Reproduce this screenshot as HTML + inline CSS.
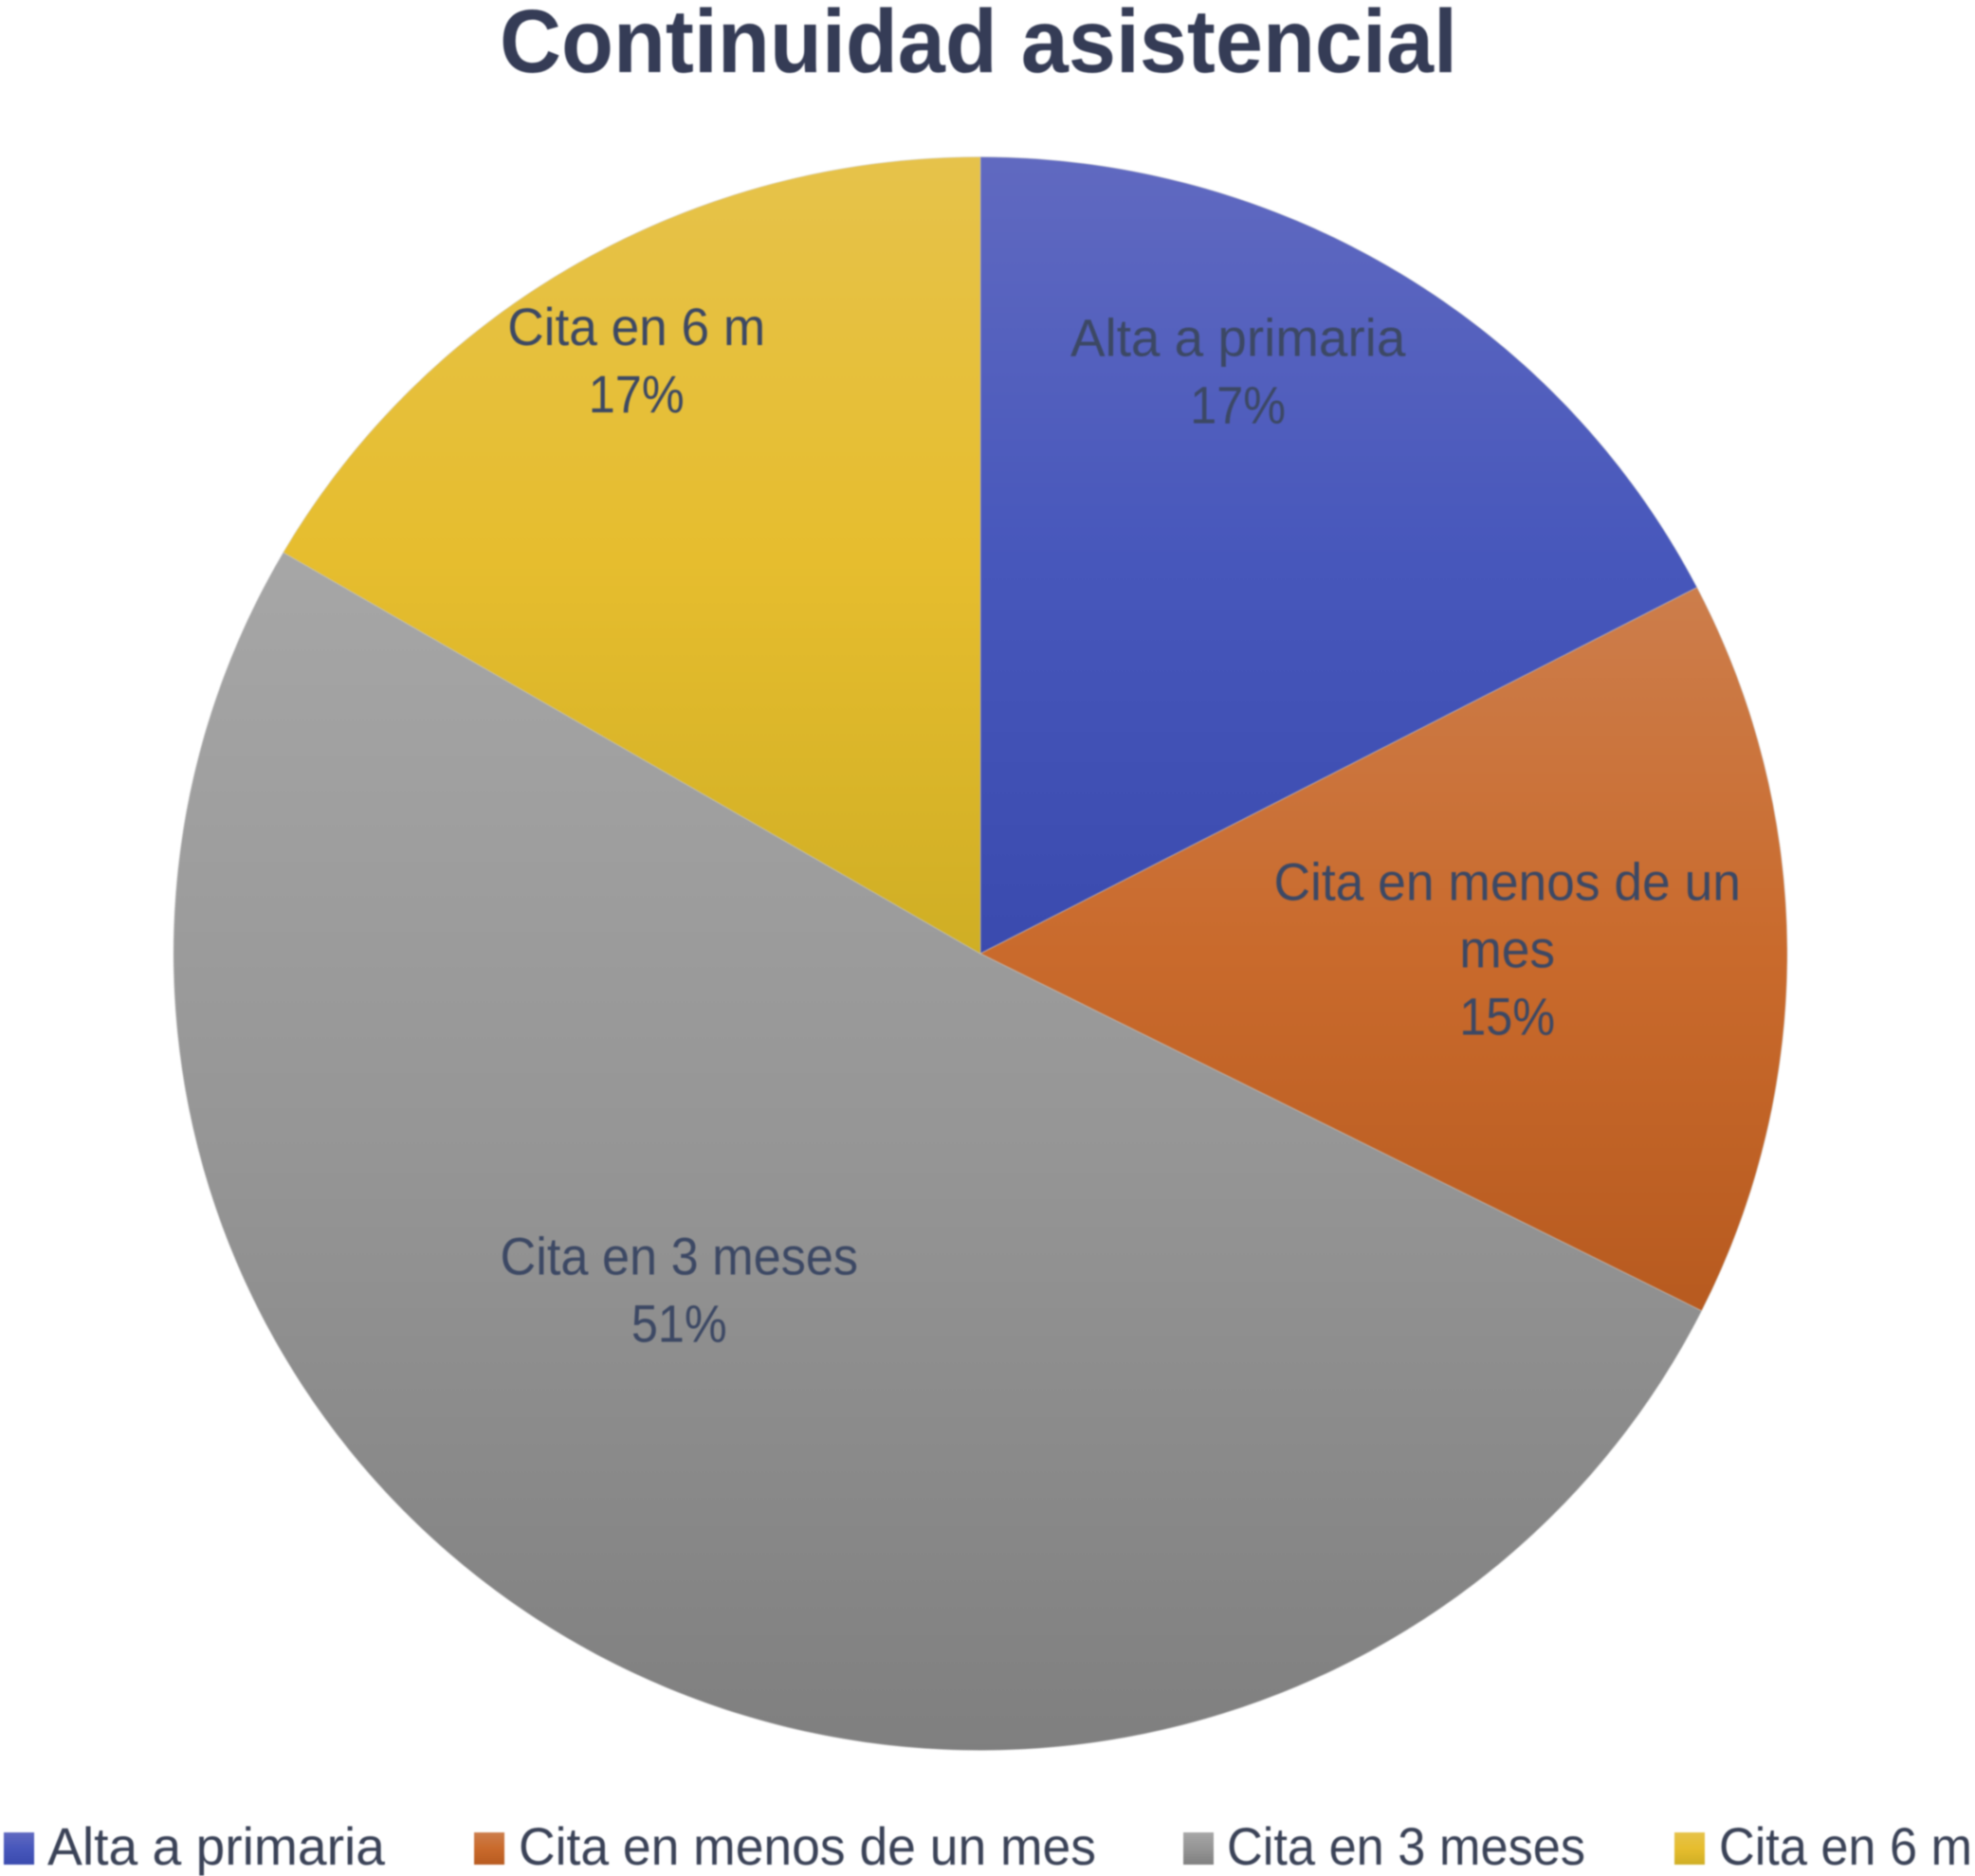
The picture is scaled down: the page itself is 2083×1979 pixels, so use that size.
<!DOCTYPE html>
<html lang="es">
<head>
<meta charset="utf-8">
<title>Continuidad asistencial</title>
<style>
  html, body { margin: 0; padding: 0; background: #ffffff; }
  #chart { display: block; width: 2083px; height: 1979px; font-family: "Liberation Sans", sans-serif; filter: blur(0.7px); }
</style>
</head>
<body>
<svg id="chart" xmlns="http://www.w3.org/2000/svg" width="2083" height="1979" viewBox="0 0 2083 1979">
  <defs>
    <linearGradient id="grad-0" x1="0" y1="0" x2="0" y2="1">
      <stop offset="0" stop-color="#6069c0"/><stop offset="0.5" stop-color="#4757bb"/><stop offset="1" stop-color="#3a4aae"/>
    </linearGradient>
    <linearGradient id="grad-1" x1="0" y1="0" x2="0" y2="1">
      <stop offset="0" stop-color="#cc7d4b"/><stop offset="0.5" stop-color="#c96a2c"/><stop offset="1" stop-color="#b75a1f"/>
    </linearGradient>
    <linearGradient id="grad-2" x1="0" y1="0" x2="0" y2="1">
      <stop offset="0" stop-color="#a6a6a6"/><stop offset="0.5" stop-color="#959595"/><stop offset="1" stop-color="#7f7f7f"/>
    </linearGradient>
    <linearGradient id="grad-3" x1="0" y1="0" x2="0" y2="1">
      <stop offset="0" stop-color="#e6c24a"/><stop offset="0.5" stop-color="#e6bd2e"/><stop offset="1" stop-color="#cfae24"/>
    </linearGradient>
  </defs>
  <text x="1032" y="76" text-anchor="middle" font-size="95" font-weight="700" fill="#353c56" textLength="1010" lengthAdjust="spacingAndGlyphs">Continuidad asistencial</text>
  <g id="slices"></g>
  <g id="labels"></g>
  <g id="legend"></g>
</svg>
<script>
const categories = ["Alta a primaria", "Cita en menos de un mes", "Cita en 3 meses", "Cita en 6 m"];
const values = [17.4, 15.0, 51, 16.6];
const printedValues = ["17%", "15%", "51%", "17%"];
const labelLines = [["Alta a primaria"], ["Cita en menos de un", "mes"], ["Cita en 3 meses"], ["Cita en 6 m"]];

const CX = 1034, CY = 1006, RX = 851, RY = 840.5;
const SVG_NS = "http://www.w3.org/2000/svg";
const LABEL_RADIUS = 0.7, LABEL_SIZE = 56, LINE_GAP = 71, PERCENT_CONDENSE = 0.9;
const labelCondenseLayout = [0.979, 0.953, 0.933, 0.95];
const labelNudgeLayout = [[-38, -128], [-40, -53], [-34, -179], [-66, -132]];
const legendLayout = [[4, 50, 356], [500, 547, 609], [1248, 1294, 378], [1766, 1813, 267]];
const swatchColors = ["url(#grad-0)", "url(#grad-1)", "url(#grad-2)", "url(#grad-3)"];

const total = values.reduce(function (a, b) { return a + b; }, 0);
function angleOf(v) { return v / total * Math.PI * 2; }
function px(a, k) { return CX + Math.sin(a) * RX * k; }
function py(a, k) { return CY - Math.cos(a) * RY * k; }

const slicesG = document.getElementById("slices");
const labelsG = document.getElementById("labels");
const legendG = document.getElementById("legend");

let cursor = 0;
values.forEach(function (v, i) {
  const a0 = angleOf(cursor);
  const a1 = angleOf(cursor + v);
  cursor += v;
  const large = (a1 - a0) > Math.PI ? 1 : 0;
  const path = document.createElementNS(SVG_NS, "path");
  path.setAttribute("d", "M" + CX + " " + CY + " L" + px(a0, 1) + " " + py(a0, 1) +
    " A" + RX + " " + RY + " 0 " + large + " 1 " + px(a1, 1) + " " + py(a1, 1) + " Z");
  path.setAttribute("fill", swatchColors[i]);
  path.setAttribute("stroke", "rgba(205,205,205,0.45)");
  path.setAttribute("stroke-width", "1");
  
  
  slicesG.appendChild(path);

  const mid = (a0 + a1) / 2;
  const lx = px(mid, LABEL_RADIUS) + labelNudgeLayout[i][0];
  const ly = py(mid, LABEL_RADIUS) + labelNudgeLayout[i][1];
  const lines = labelLines[i].concat([printedValues[i]]);
  lines.forEach(function (line, j) {
    const t = document.createElementNS(SVG_NS, "text");
    t.setAttribute("x", lx);
    t.setAttribute("y", ly + j * LINE_GAP);
    t.setAttribute("text-anchor", "middle");
    t.setAttribute("font-size", LABEL_SIZE);
    t.setAttribute("fill", "#3c4864");
    
    
    t.textContent = line;
    labelsG.appendChild(t);
    const condense = j === lines.length - 1 ? PERCENT_CONDENSE : labelCondenseLayout[i];
    t.setAttribute("textLength", (t.getComputedTextLength() * condense).toFixed(1));
    t.setAttribute("lengthAdjust", "spacingAndGlyphs");
  });

  const sw = document.createElementNS(SVG_NS, "rect");
  sw.setAttribute("x", legendLayout[i][0]);
  sw.setAttribute("y", 1933);
  sw.setAttribute("width", 32);
  sw.setAttribute("height", 34);
  sw.setAttribute("fill", swatchColors[i]);
  
  
  legendG.appendChild(sw);

  const lt = document.createElementNS(SVG_NS, "text");
  lt.setAttribute("x", legendLayout[i][1]);
  lt.setAttribute("y", 1967);
  lt.setAttribute("font-size", LABEL_SIZE);
  lt.setAttribute("fill", "#3a4257");
  lt.setAttribute("textLength", legendLayout[i][2]);
  lt.setAttribute("lengthAdjust", "spacingAndGlyphs");
  
  
  lt.textContent = categories[i];
  legendG.appendChild(lt);
});
</script>
</body>
</html>
